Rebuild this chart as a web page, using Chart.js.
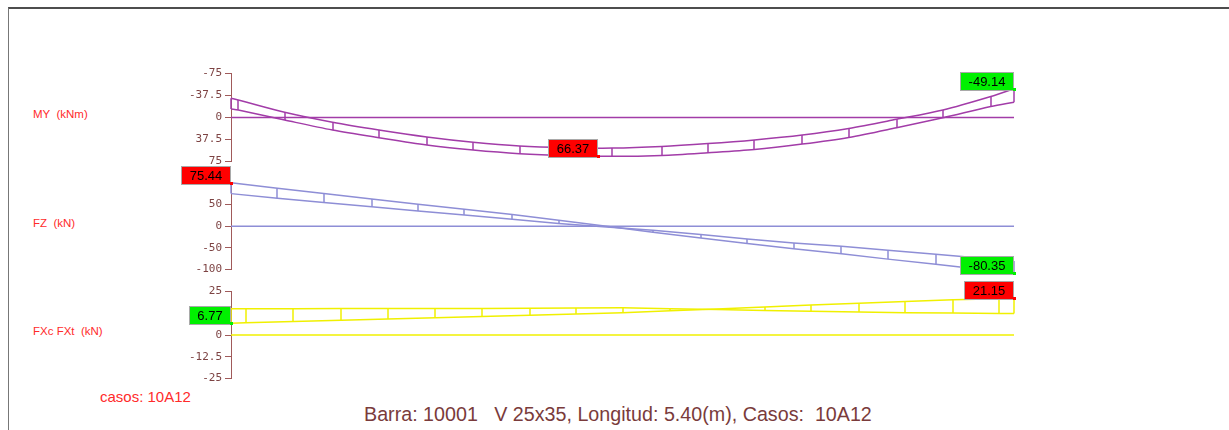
<!DOCTYPE html>
<html>
<head>
<meta charset="utf-8">
<script src="https://cdn.jsdelivr.net/npm/chart.js@4.4.0/dist/chart.umd.min.js"></script>
<style>
html,body{margin:0;padding:0;background:#fff;}
#wrap{position:relative;width:1229px;height:430px;overflow:hidden;background:#fff;}
#wrap canvas{position:absolute;left:0;top:0;}
.frame{position:absolute;left:8px;top:7px;width:1230px;height:430px;border-top:2px solid #4d4d4d;border-left:1px solid #777;}
.side{position:absolute;left:33px;color:#ff2b2b;font:11.5px "Liberation Sans",Arial,sans-serif;white-space:pre;line-height:12px;}
.casos{position:absolute;left:100px;top:388px;color:#ff2b2b;font:15px "Liberation Sans",Arial,sans-serif;white-space:pre;line-height:18px;}
.caption{position:absolute;left:364px;top:403px;color:#7a3b3b;font:19.7px "Liberation Sans",Arial,sans-serif;white-space:pre;line-height:22px;}
</style>
</head>
<body>
<div id="wrap">
  <div class="frame"></div>
  <div class="side" style="top:108px">MY  (kNm)</div>
  <div class="side" style="top:217px">FZ  (kN)</div>
  <div class="side" style="top:325px">FXc FXt  (kN)</div>
  <div class="casos">casos: 10A12</div>
  <div class="caption">Barra: 10001   V 25x35, Longitud: 5.40(m), Casos:  10A12</div>
  <canvas id="cMY" width="1229" height="430"></canvas>
  <canvas id="cFZ" width="1229" height="430"></canvas>
  <canvas id="cFX" width="1229" height="430"></canvas>
</div>
<script>
// ---------------- DATA ----------------
const beamEnds = [0, 5.40];

// MY (kNm) envelope
const myStations = [0, 0.05, 0.37, 0.70, 1.02, 1.35, 1.67, 1.99, 2.32, 2.63, 2.97, 3.29, 3.61, 3.94, 4.26, 4.59, 4.91, 5.24, 5.40];
const myUpper    = [-32.7, -29.8, -8.9, 8.1, 21.3, 33.2, 42.2, 48.6, 51.5, 52.2, 49.5, 44.5, 38.2, 29.8, 18.6, 3.1, -12.8, -35.8, -49.14];
const myLower    = [-14.5, -12.8, 4.3, 21.3, 34.4, 46.9, 55.4, 61.6, 65.0, 66.2, 64.6, 60.0, 54.5, 45.2, 33.9, 17.4, 0.3, -18.8, -26.0];
const myTicks    = [-75, -37.5, 0, 37.5, 75];
const myLabelX   = [2.53, 5.40];
const myLabelVal = [66.37, -49.14];

// FZ (kN) envelope
const fzStations = [0, 0.32, 0.64, 0.97, 1.29, 1.61, 1.94, 2.26, 2.59, 2.91, 3.24, 3.56, 3.88, 4.21, 4.53, 4.86, 5.18, 5.40];
const fzOuter    = [100.5, 88.0, 75.6, 62.9, 50.7, 39.2, 27.0, 13.8, 0.0, -14.0, -27.0, -40.0, -52.0, -63.5, -76.0, -88.0, -100.0, -108.3];
const fzInner    = [75.44, 64.5, 54.8, 45.0, 35.4, 25.8, 16.0, 6.5, -1.5, -9.0, -19.1, -29.3, -38.5, -46.1, -55.4, -64.7, -74.0, -80.35];
const fzTicks    = [50, 0, -50, -100];
const fzLabelX   = [0, 5.40];
const fzLabelVal = [75.44, -80.35];

// FXc FXt (kN) envelope
const fxStations = [0, 0.10, 0.43, 0.76, 1.08, 1.41, 1.73, 2.06, 2.38, 2.70, 3.03, 3.35, 3.68, 4.00, 4.33, 4.65, 4.98, 5.30, 5.40];
const fxRising   = [6.77, 7.0, 7.8, 8.5, 9.2, 9.9, 10.6, 11.3, 12.0, 12.8, 13.9, 15.0, 16.1, 17.2, 18.3, 19.3, 20.2, 20.9, 21.15];
const fxFlat     = [15.06, 15.1, 15.1, 15.2, 15.2, 15.3, 15.3, 15.4, 15.5, 15.6, 15.1, 14.6, 14.1, 13.6, 13.2, 12.8, 12.6, 12.4, 12.4];
const fxTicks    = [25, 12.5, 0, -12.5, -25];
const fxLabelX   = [0, 5.40];
const fxLabelVal = [6.77, 21.15];

// ---------------- STYLE ----------------
const AXIS = '#a05a5a';
const TICKTXT = '#7d4343';
const RED = '#ff0000';
const GREEN = '#00f000';
const W = 1229, H = 430;
const PLOT_LEFT = 231, PLOT_RIGHT = 1014;

const beamPlugin = {
  id: 'beam',
  afterDatasetsDraw(chart, args, o) {
    const ctx = chart.ctx, xs = chart.scales.x, ys = chart.scales.y;
    ctx.save();
    ctx.strokeStyle = o.color;
    ctx.lineWidth = 1.5;
    o.stations.forEach((s, i) => {
      const px = Math.round(xs.getPixelForValue(s));
      ctx.beginPath();
      ctx.moveTo(px, ys.getPixelForValue(o.a[i]));
      ctx.lineTo(px, ys.getPixelForValue(o.b[i]));
      ctx.stroke();
    });
    ctx.font = '13px "Liberation Sans", Arial, sans-serif';
    o.labels.forEach(l => {
      const ax = Math.round(xs.getPixelForValue(l.x));
      const ay = Math.round(ys.getPixelForValue(l.anchor));
      const text = String(l.text);
      const w = Math.round(ctx.measureText(text).width + 17), h = 19;
      const x0 = ax - w, y0 = ay + 2 - h;
      ctx.fillStyle = l.color;
      ctx.fillRect(x0, y0, w, h);
      ctx.strokeStyle = '#a9a9a9';
      ctx.lineWidth = 1;
      ctx.strokeRect(x0 + 0.5, y0 + 0.5, w - 1, h - 1);
      ctx.fillStyle = '#000';
      ctx.textAlign = 'center';
      ctx.textBaseline = 'middle';
      ctx.fillText(text, x0 + w / 2, y0 + h / 2 + 1);
      ctx.fillStyle = l.color;
      ctx.fillRect(ax - 1, ay - 1, 3, 3);
    });
    ctx.restore();
  }
};

function makeChart(id, c) {
  const pts = (xsArr, ysArr) => xsArr.map((x, i) => ({ x, y: ysArr[i] }));
  const ds = (data, tension) => ({ data, borderColor: c.color, borderWidth: 1.5, pointRadius: 0, tension, clip: false, fill: false });
  return new Chart(document.getElementById(id), {
    type: 'line',
    data: {
      datasets: [
        ds(pts(c.stations, c.a), c.tension),
        ds(pts(c.stations, c.b), c.tension),
        ds(pts(beamEnds, [0, 0]), 0)
      ]
    },
    options: {
      responsive: false,
      animation: false,
      devicePixelRatio: 1,
      events: [],
      layout: { padding: { left: 0, right: W - PLOT_RIGHT, top: c.top, bottom: H - c.bottom } },
      plugins: {
        legend: { display: false },
        tooltip: { enabled: false },
        beam: { color: c.color, stations: c.stations, a: c.a, b: c.b, labels: c.labels }
      },
      scales: {
        x: { type: 'linear', min: beamEnds[0], max: beamEnds[1], display: false },
        y: {
          min: c.min, max: c.max, reverse: !!c.reverse,
          afterFit(s) { s.width = PLOT_LEFT; },
          afterBuildTicks(s) { s.ticks = c.ticks.map(v => ({ value: v })); },
          ticks: {
            autoSkip: false, padding: 3, color: TICKTXT,
            font: { family: '"DejaVu Sans Mono", monospace', size: 11 },
            callback: v => String(v)
          },
          grid: { drawOnChartArea: false, drawTicks: true, tickLength: 6, color: AXIS, lineWidth: 1 },
          border: { display: true, color: AXIS, width: 1 }
        }
      }
    },
    plugins: [beamPlugin]
  });
}

makeChart('cMY', {
  color: '#a23ca8', stations: myStations, a: myUpper, b: myLower, tension: 0.3,
  min: -75, max: 75, reverse: true, ticks: myTicks, top: 73.5, bottom: 161.5,
  labels: [
    { x: myLabelX[0], anchor: myLabelVal[0], text: myLabelVal[0].toFixed(2), color: RED },
    { x: myLabelX[1], anchor: myLabelVal[1], text: myLabelVal[1].toFixed(2), color: GREEN }
  ]
});

makeChart('cFZ', {
  color: '#8e8ed6', stations: fzStations, a: fzOuter, b: fzInner, tension: 0,
  min: -100, max: 100, ticks: fzTicks, top: 183, bottom: 269.5,
  labels: [
    { x: fzLabelX[0], anchor: fzOuter[0], text: fzLabelVal[0].toFixed(2), color: RED },
    { x: fzLabelX[1], anchor: fzOuter[fzOuter.length - 1], text: fzLabelVal[1].toFixed(2), color: GREEN }
  ]
});

makeChart('cFX', {
  color: '#f0f000', stations: fxStations, a: fxFlat, b: fxRising, tension: 0,
  min: -25, max: 25, ticks: fxTicks, top: 291.5, bottom: 378.5,
  labels: [
    { x: fxLabelX[0], anchor: fxLabelVal[0], text: fxLabelVal[0].toFixed(2), color: GREEN },
    { x: fxLabelX[1], anchor: fxLabelVal[1], text: fxLabelVal[1].toFixed(2), color: RED }
  ]
});
</script>
</body>
</html>
